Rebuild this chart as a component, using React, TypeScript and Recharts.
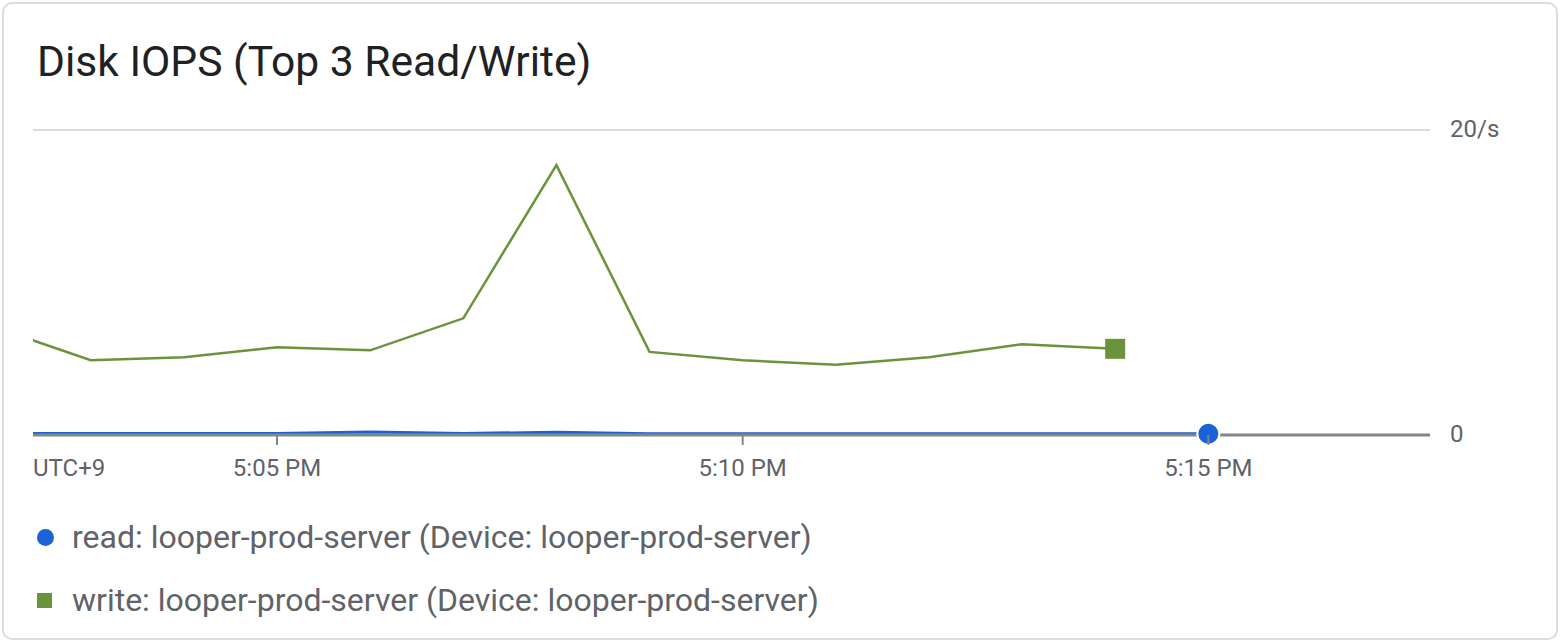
import React from "react";
import { LineChart, Line, XAxis, YAxis, CartesianGrid, ReferenceDot } from "recharts";

// minutes after 5:00 PM
const minutes = [2, 3, 4, 5, 6, 7, 8, 9, 10, 11, 12, 13, 14, 15];
const writeIops = [7.0, 4.9, 5.1, 5.75, 5.55, 7.65, 17.7, 5.45, 4.9, 4.6, 5.1, 5.95, 5.65, null];
const readIops = [0.1, 0.1, 0.1, 0.1, 0.2, 0.1, 0.18, 0.08, 0.08, 0.08, 0.08, 0.08, 0.08, 0.08];

const xTicks = [2.38, 5, 10, 15];
const xTickLabels = ["UTC+9", "5:05 PM", "5:10 PM", "5:15 PM"];
const yTicks = [0, 20];
const yTickLabels = ["0", "20/s"];

const data = minutes.map((m, i) => ({ t: m, write: writeIops[i], read: readIops[i] }));

const BLUE = "#1a62d6";
const GREEN = "#6a943c";
const FONT = "Roboto, 'Noto Sans', sans-serif";

const XTick = (props: any) => {
  const { x, y, payload } = props;
  const idx = xTicks.indexOf(payload.value);
  const first = idx === 0;
  return (
    <g>
      {!first && <line x1={x} x2={x} y1={y - 8} y2={y + 2} stroke="#80868b" strokeWidth={2} />}
      <text
        x={x}
        y={y + 33}
        textAnchor={first ? "start" : "middle"}
        fill="#5f6368"
        fontSize={24}
        fontFamily={FONT}
      >
        {xTickLabels[idx]}
      </text>
    </g>
  );
};

const YTick = (props: any) => {
  const { y, payload } = props;
  const idx = yTicks.indexOf(payload.value);
  return (
    <text x={1450} y={y} dy={7} textAnchor="start" fill="#5f6368" fontSize={24} fontFamily={FONT}>
      {yTickLabels[idx]}
    </text>
  );
};

const lastIndex = (arr: (number | null)[]) => {
  let k = -1;
  arr.forEach((v, i) => { if (v !== null) k = i; });
  return k;
};

const SquareMark = (p: any) => (
  <rect x={p.cx - 10} y={p.cy - 10} width={20} height={20} fill={GREEN} />
);

export default function App() {
  const wLast = lastIndex(writeIops);
  const rLast = lastIndex(readIops);
  return (
    <div
      style={{
        position: "fixed",
        left: 0,
        top: 0,
        width: 1562,
        height: 644,
        background: "#fff",
        fontFamily: FONT,
      }}
    >
      <div
        style={{
          position: "absolute",
          left: 2,
          top: 2,
          width: 1556,
          height: 638,
          border: "2px solid #dadce0",
          borderRadius: 10,
          boxSizing: "border-box",
        }}
      />
      <div
        style={{
          position: "absolute",
          left: 37,
          top: 37,
          fontSize: 42.6,
          color: "#202124",
          lineHeight: "48px",
          whiteSpace: "nowrap",
        }}
      >
        Disk IOPS (Top 3 Read/Write)
      </div>
      <div style={{ position: "absolute", left: 0, top: 0 }}>
        <LineChart
          width={1562}
          height={500}
          data={data}
          margin={{ top: 130, right: 0, left: 33, bottom: 0 }}
        >
          <CartesianGrid vertical={false} stroke="#dadce0" strokeWidth={2} horizontalValues={[20]} />
          <XAxis
            dataKey="t"
            type="number"
            domain={[2.38, 17.38]}
            allowDataOverflow
            ticks={xTicks}
            interval={0}
            tick={<XTick />}
            tickLine={false}
            axisLine={{ stroke: "#80868b", strokeWidth: 3 }}
            height={65}
          />
          <YAxis
            orientation="right"
            domain={[0, 20]}
            ticks={yTicks}
            allowDataOverflow
            tick={<YTick />}
            tickLine={false}
            axisLine={false}
            width={132}
          />
          <Line
            dataKey="write"
            stroke={GREEN}
            strokeWidth={2.5}
            isAnimationActive={false}
            connectNulls={false}
            dot={false}
            activeDot={false}
          />
          <Line
            dataKey="read"
            stroke={BLUE}
            strokeWidth={3}
            isAnimationActive={false}
            dot={false}
            activeDot={false}
          />
          <ReferenceDot
            x={minutes[wLast]}
            y={writeIops[wLast] as number}
            ifOverflow="visible"
            shape={<SquareMark />}
          />
          <ReferenceDot
            x={minutes[rLast]}
            y={readIops[rLast]}
            r={11}
            fill={BLUE}
            stroke="#fff"
            strokeWidth={2}
            ifOverflow="visible"
          />
        </LineChart>
      </div>
      <div style={{ position: "absolute", left: 37, top: 516, fontSize: 32, color: "#5f6368", whiteSpace: "nowrap" }}>
        <div style={{ display: "flex", alignItems: "center", height: 42 }}>
          <span style={{ width: 17, height: 17, borderRadius: "50%", background: BLUE, marginRight: 18 }} />
          read: looper-prod-server (Device: looper-prod-server)
        </div>
        <div style={{ display: "flex", alignItems: "center", height: 42, marginTop: 21 }}>
          <span style={{ width: 15, height: 15, background: GREEN, marginRight: 20 }} />
          write: looper-prod-server (Device: looper-prod-server)
        </div>
      </div>
    </div>
  );
}
